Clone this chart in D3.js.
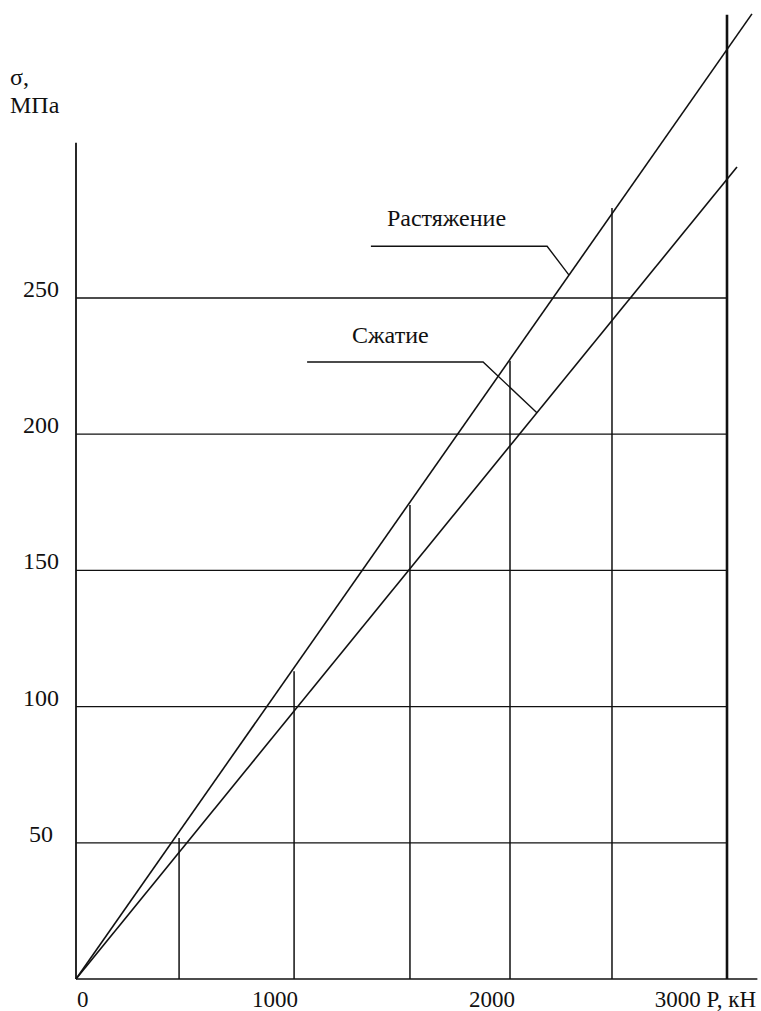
<!DOCTYPE html>
<html>
<head>
<meta charset="utf-8">
<script src="https://cdn.jsdelivr.net/npm/d3@7/dist/d3.min.js"></script>
<style>
  html, body { margin: 0; padding: 0; background: #fff; }
  svg { display: block; }
</style>
</head>
<body>
<svg id="chart" width="761" height="1011"></svg>
<script>
// ---- data ----
const yTicks = [50, 100, 150, 200, 250];              // σ, МПа grid values
const xTickLabels = [0, 1000, 2000, 3000];            // P, кН labels
const loadP = [475, 1005, 1539, 2000, 2470, 3000];    // measurement loads, кН (vertical lines)
const loadTop = [51.8, 113, 174, 227, 283, 354];      // height of each vertical line, МПа
const tensionLine = [[0, 0], [3115, 354.3]];          // Растяжение
const compressLine = [[0, 0], [3046, 298.1]];         // Сжатие
const seriesNames = ["Растяжение", "Сжатие"];
// annotations: text position, leader start, elbow, target on the line (data units)
const annoText = [[1433, 276.5], [1272, 233.5]];
const annoLeader = [[[1359, 269], [2171, 269], [2272, null]],
                    [[1065, 226.5], [1876, 226.5], [2124, null]]];

// ---- scales ----
const x = d3.scaleLinear().domain([0, 3000]).range([76, 727]);
const y = d3.scaleLinear().domain([0, 250]).range([979, 298]);

const FONT = "'Liberation Serif', 'Times New Roman', 'DejaVu Serif', serif";
const svg = d3.select("#chart").attr("font-family", FONT);
const ink = "#111";

// grid lines
svg.append("g").selectAll("line").data(yTicks).join("line")
  .attr("x1", x(0)).attr("x2", x(3000))
  .attr("y1", d => y(d)).attr("y2", d => y(d))
  .attr("stroke", ink).attr("stroke-width", 1.3);

// baseline (x axis)
svg.append("line")
  .attr("x1", x(0)).attr("x2", x(3140))
  .attr("y1", y(0)).attr("y2", y(0))
  .attr("stroke", ink).attr("stroke-width", 1.6);

// y axis
svg.append("line")
  .attr("x1", x(0)).attr("x2", x(0))
  .attr("y1", y(0)).attr("y2", y(307))
  .attr("stroke", ink).attr("stroke-width", 1.8);

// vertical load lines
svg.append("g").selectAll("line").data(loadP).join("line")
  .attr("x1", d => x(d)).attr("x2", d => x(d))
  .attr("y1", y(0)).attr("y2", (d, i) => y(loadTop[i]))
  .attr("stroke", ink)
  .attr("stroke-width", (d, i) => i === loadP.length - 1 ? 2.6 : 1.5);

// series lines
const line = d3.line().x(d => x(d[0])).y(d => y(d[1]));
[tensionLine, compressLine].forEach(s => {
  svg.append("path").attr("d", line(s))
    .attr("fill", "none").attr("stroke", ink).attr("stroke-width", 1.6);
});

// annotations
const series = [tensionLine, compressLine];
seriesNames.forEach((name, i) => {
  const s = series[i];
  const slope = s[1][1] / s[1][0];
  const pts = annoLeader[i].map(p => [p[0], p[1] === null ? p[0] * slope : p[1]]);
  svg.append("path").attr("d", line(pts))
    .attr("fill", "none").attr("stroke", ink).attr("stroke-width", 1.4);
  svg.append("text")
    .attr("x", x(annoText[i][0])).attr("y", y(annoText[i][1]))
    .attr("font-family", FONT).attr("fill", ink)
    .attr("font-size", 24).text(name);
});

// y tick labels
svg.append("g").selectAll("text").data(yTicks).join("text")
  .attr("x", 41).attr("y", d => y(d) - 1)
  .attr("text-anchor", "middle").attr("font-size", 24)
  .attr("font-family", FONT).attr("fill", ink)
  .text(d => d);

// x tick labels
svg.append("g").selectAll("text").data(xTickLabels).join("text")
  .attr("x", d => d === 0 ? x(d) + 1 : (d === 3000 ? x(d) + 29 : x(d) + 5))
  .attr("y", 1007)
  .attr("text-anchor", d => d === 0 ? "start" : "end")
  .attr("font-size", 23)
  .attr("font-family", FONT).attr("fill", ink)
  .text(d => d === 3000 ? "3000 P, кН" : d);

// y axis title
svg.append("text").attr("x", 10).attr("y", 85).attr("font-size", 24)
  .attr("font-family", FONT).attr("fill", ink).text("σ,");
svg.append("text").attr("x", 10).attr("y", 113).attr("font-size", 24)
  .attr("font-family", FONT).attr("fill", ink).text("МПа");
</script>
</body>
</html>
